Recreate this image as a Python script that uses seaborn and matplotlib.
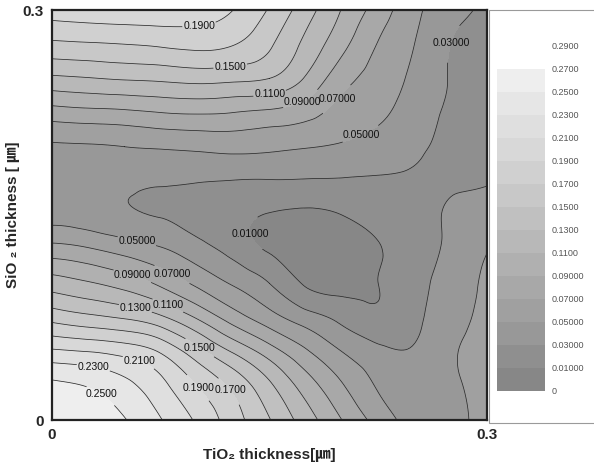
import numpy as np
import matplotlib
matplotlib.use("Agg")
import matplotlib.pyplot as plt
import matplotlib.tri as mtri
from matplotlib.patches import Rectangle
from matplotlib.ticker import AutoMinorLocator
import seaborn as sns

# grid of thicknesses (um)
tio2 = [0.0, 0.025, 0.05, 0.075, 0.1, 0.125, 0.15, 0.175, 0.2, 0.225, 0.25, 0.275, 0.3]
sio2 = [0.0, 0.025, 0.05, 0.075, 0.1, 0.125, 0.15, 0.175, 0.2, 0.225, 0.25, 0.275, 0.3]

# values, one row per SiO2 thickness (bottom -> top)
r_000 = [0.266, 0.262, 0.251, 0.231, 0.207, 0.179, 0.151, 0.120, 0.090, 0.062, 0.043, 0.044, 0.057]
r_025 = [0.255, 0.249, 0.236, 0.216, 0.190, 0.165, 0.134, 0.101, 0.072, 0.048, 0.039, 0.046, 0.058]
r_050 = [0.214, 0.210, 0.203, 0.188, 0.158, 0.128, 0.100, 0.073, 0.050, 0.035, 0.032, 0.047, 0.058]
r_075 = [0.163, 0.155, 0.148, 0.134, 0.108, 0.080, 0.058, 0.039, 0.024, 0.014, 0.025, 0.042, 0.056]
r_100 = [0.120, 0.112, 0.102, 0.086, 0.066, 0.048, 0.030, 0.008, 0.005, 0.010, 0.023, 0.039, 0.053]
r_125 = [0.078, 0.072, 0.062, 0.052, 0.038, 0.023, 0.008, 0.004, 0.004, 0.009, 0.021, 0.034, 0.049]
r_150 = [0.042, 0.038, 0.033, 0.029, 0.022, 0.015, 0.009, 0.007, 0.010, 0.017, 0.024, 0.032, 0.037]
r_175 = [0.036, 0.035, 0.034, 0.032, 0.031, 0.0295, 0.029, 0.0285, 0.028, 0.028, 0.028, 0.028, 0.029]
r_200 = [0.047, 0.048, 0.050, 0.052, 0.054, 0.056, 0.054, 0.051, 0.048, 0.042, 0.033, 0.027, 0.024]
r_225 = [0.081, 0.084, 0.086, 0.090, 0.092, 0.090, 0.086, 0.078, 0.062, 0.054, 0.039, 0.028, 0.025]
r_250 = [0.126, 0.129, 0.132, 0.134, 0.137, 0.135, 0.130, 0.108, 0.078, 0.062, 0.045, 0.029, 0.025]
r_275 = [0.166, 0.168, 0.170, 0.173, 0.176, 0.171, 0.153, 0.125, 0.096, 0.069, 0.050, 0.030, 0.025]
r_300 = [0.200, 0.203, 0.205, 0.204, 0.200, 0.190, 0.168, 0.139, 0.109, 0.081, 0.055, 0.037, 0.027]

levels = [0, 0.01, 0.03, 0.05, 0.07, 0.09, 0.11, 0.13, 0.15, 0.17, 0.19, 0.21, 0.23, 0.25, 0.27, 0.29]

Z = np.array([r_000, r_025, r_050, r_075, r_100, r_125, r_150, r_175,
              r_200, r_225, r_250, r_275, r_300])
X, Y = np.meshgrid(tio2, sio2)

sns.set_style("white")
plt.rcParams["font.family"] = ["Liberation Sans", "DejaVu Sans", "Noto Sans CJK KR"]

band_colors = ["#878787", "#8f8f8f", "#989898", "#a0a0a0", "#a8a8a8", "#b0b0b0",
               "#b8b8b8", "#c0c0c0", "#c8c8c8", "#d0d0d0", "#d8d8d8", "#dfdfdf",
               "#e6e6e6", "#eeeeee", "#ffffff"]

fig = plt.figure(figsize=(5.94, 4.76), dpi=100)

# white box behind the colour bar
fig.patches.append(Rectangle((0.823, 0.111), 0.3, 0.868, transform=fig.transFigure,
                             facecolor="white", edgecolor="#9a9a9a", lw=0.8, zorder=-10))

ax = fig.add_axes([0.0875, 0.1176, 0.7323, 0.8613])

tri = mtri.Triangulation(X.ravel(), Y.ravel())
refiner = mtri.UniformTriRefiner(tri)
tri_f, z_f = refiner.refine_field(Z.ravel(), subdiv=4)

cf = ax.tricontourf(tri_f, z_f, levels=levels, colors=band_colors)

# (level, x, y) where each inline label sits
label_spots = [(0.19, 0.102, 0.282), (0.15, 0.123, 0.258), (0.11, 0.150, 0.240),
               (0.09, 0.171, 0.236), (0.07, 0.195, 0.236), (0.05, 0.212, 0.211),
               (0.03, 0.268, 0.278), (0.01, 0.133, 0.135), (0.05, 0.059, 0.133),
               (0.09, 0.056, 0.107), (0.07, 0.083, 0.107), (0.13, 0.058, 0.084),
               (0.11, 0.080, 0.084), (0.15, 0.100, 0.050), (0.23, 0.029, 0.041),
               (0.21, 0.059, 0.040), (0.25, 0.035, 0.020), (0.19, 0.099, 0.022),
               (0.17, 0.121, 0.020)]

for lev in levels[1:-1]:
    cs = ax.tricontour(tri_f, z_f, levels=[lev], colors="#2a2a2a", linewidths=0.55)
    spots = [(lx, ly) for l, lx, ly in label_spots if l == lev]
    if spots:
        ax.clabel(cs, manual=spots, inline=True, inline_spacing=1,
                  fmt=lambda v: "%#.4g" % v, fontsize=7.5, colors="#111111")
for t in ax.texts:
    t.set_rotation(0)

ax.set_xlim(0, 0.3)
ax.set_ylim(0, 0.3)
major = np.linspace(0, 0.3, 10)
tick_txt = ["0"] + [""] * 8 + ["0.3"]
ax.set_xticks(major, tick_txt)
ax.set_yticks(major, tick_txt)
ax.xaxis.set_minor_locator(AutoMinorLocator(2))
ax.yaxis.set_minor_locator(AutoMinorLocator(2))
ax.tick_params(which="both", direction="in", top=True, right=True, color="#111111")
ax.tick_params(which="major", length=5, width=1.1, labelsize=11, pad=6)
ax.tick_params(which="minor", length=3, width=1.0)
for t in ax.get_xticklabels() + ax.get_yticklabels():
    t.set_fontweight("bold")
for s in ax.spines.values():
    s.set_linewidth(1.6)
    s.set_color("#222222")

ax.set_xlabel("TiO\u2082 thickness[\u339b]", fontsize=11, fontweight="bold", labelpad=4)
ax.set_ylabel("SiO \u2082 thickness [ \u339b]", fontsize=11, fontweight="bold", labelpad=2)

cax = fig.add_axes([0.8367, 0.1786, 0.0808, 0.7248])
cb = fig.colorbar(cf, cax=cax, ticks=levels)
cb.outline.set_visible(False)
cb.ax.set_yticklabels(["0" if v == 0 else "%#.4g" % v for v in levels])
cb.ax.tick_params(length=0, labelsize=6.5, labelcolor="#555555", pad=5)

fig.savefig("out.png", dpi=100)
